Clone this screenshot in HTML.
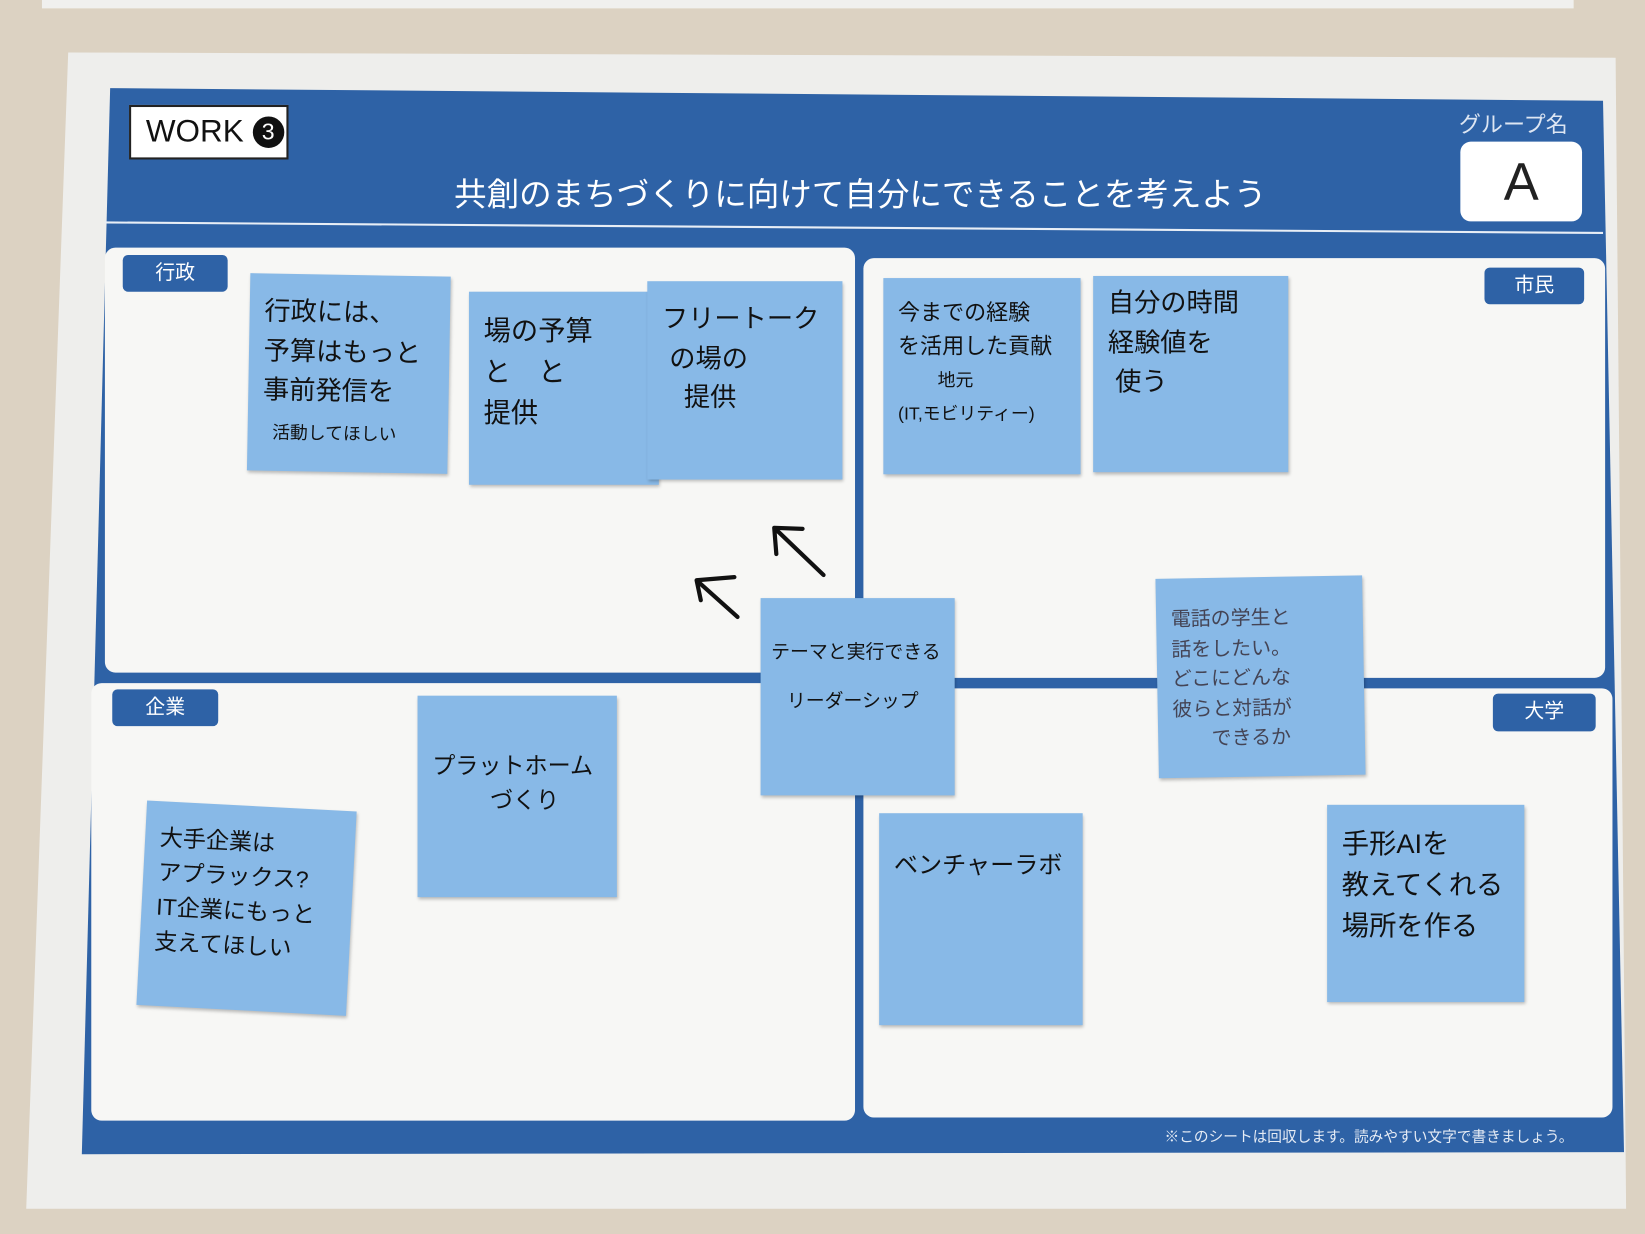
<!DOCTYPE html>
<html><head><meta charset="utf-8">
<style>
html,body{margin:0;padding:0;width:1645px;height:1234px;overflow:hidden;background:#dcd2c2;}
#s{position:absolute;left:0;top:0;width:1568px;height:1176px;transform:scale(1.0491,1.0493);transform-origin:0 0;font-family:"Liberation Sans","Noto Sans CJK JP",sans-serif;}
.a{position:absolute;}
.q{position:absolute;background:#f7f7f5;border-radius:10px;}
.lb{position:absolute;background:#2e62a6;color:#fff;font-size:19px;text-align:center;border-radius:5px;}
.n{position:absolute;background:#88b9e7;color:#111;font-size:26px;line-height:1.5;padding:18px 14px;box-sizing:border-box;box-shadow:1px 2px 3px rgba(0,0,0,.25);white-space:nowrap;overflow:hidden;font-family:"Liberation Sans","Noto Sans CJK JP",sans-serif;}
</style></head><body>
<div id="s">
<svg class="a" style="left:0;top:0" width="1568" height="1176">
<polygon points="40,0 1500,0 1500,8 40,8" fill="#f0f0ee"/>
<polygon points="65,50 1540,55 1550,1152 25,1152" fill="#eeeeec"/>
<polygon points="105,84 1528,96 1548,1098 78,1100" fill="#2e62a6"/>
<line x1="100" y1="212" x2="1528" y2="222" stroke="#e8eef6" stroke-width="2"/>
</svg>
<div class="a" style="left:123px;top:100px;width:152px;height:52px;background:#fff;border:2px solid #222;box-sizing:border-box;font-size:30px;line-height:48px;padding-left:14px;color:#111;">WORK <span style="display:inline-block;width:30px;height:30px;border-radius:50%;background:#111;color:#fff;font-size:22px;line-height:30px;text-align:center;vertical-align:2px">3</span></div>
<div class="a" style="left:300px;top:160px;width:1040px;text-align:center;color:#fff;font-size:31px;">共創のまちづくりに向けて自分にできることを考えよう</div>
<div class="a" style="left:1385px;top:103px;width:115px;text-align:center;color:#dde6f3;font-size:21px;">グループ名</div>
<div class="a" style="left:1392px;top:135px;width:116px;height:76px;background:#fff;border-radius:10px;text-align:center;font-size:50px;line-height:76px;color:#222;">A</div>
<div class="q" style="left:100px;top:236px;width:715px;height:405px"></div>
<div class="q" style="left:823px;top:246px;width:707px;height:400px"></div>
<div class="q" style="left:87px;top:651px;width:728px;height:417px"></div>
<div class="q" style="left:823px;top:656px;width:714px;height:409px"></div>
<div class="lb" style="left:117px;top:243px;width:100px;height:35px;line-height:35px">行政</div>
<div class="lb" style="left:1415px;top:255px;width:95px;height:35px;line-height:35px">市民</div>
<div class="lb" style="left:107px;top:657px;width:101px;height:35px;line-height:35px">企業</div>
<div class="lb" style="left:1423px;top:661px;width:98px;height:36px;line-height:36px">大学</div>
<div class="a" style="left:1110px;top:1073px;color:#e6ecf5;font-size:14px;">※このシートは回収します。読みやすい文字で書きましょう。</div>

<div class="n" style="left:237px;top:262px;width:191px;height:188px;font-size:25px;transform:rotate(1deg)">行政には、<br>予算はもっと<br>事前発信を<br><span style="font-size:17px">&nbsp;&nbsp;活動してほしい</span></div>
<div class="n" style="left:447px;top:278px;width:181px;height:184px">場の予算<br>と　と<br>提供</div>
<div class="n" style="left:617px;top:268px;width:186px;height:189px;font-size:25px">フリートーク<br>&nbsp;の場の<br>&nbsp;&nbsp;&nbsp;提供</div>
<div class="n" style="left:842px;top:265px;width:188px;height:187px;font-size:21px">今までの経験<br>を活用した貢献<br><span style="font-size:17px">&nbsp;&nbsp;&nbsp;&nbsp;&nbsp;&nbsp;&nbsp;&nbsp;地元<br>(IT,モビリティー)</span></div>
<div class="n" style="left:1042px;top:263px;width:186px;height:187px;font-size:25px;padding-top:8px">自分の時間<br>経験値を<br>&nbsp;使う</div>
<div class="n" style="left:1103px;top:550px;width:197px;height:190px;font-size:19px;color:#445;transform:rotate(-1deg);padding-top:26px">電話の学生と<br>話をしたい。<br>どこにどんな<br>彼らと対話が<br>&nbsp;&nbsp;&nbsp;&nbsp;&nbsp;&nbsp;&nbsp;できるか</div>
<div class="n" style="left:398px;top:663px;width:190px;height:192px;font-size:22px;padding-top:50px">プラットホーム<br>&nbsp;&nbsp;&nbsp;&nbsp;&nbsp;&nbsp;&nbsp;&nbsp;&nbsp;づくり</div>
<div class="n" style="left:135px;top:768px;width:200px;height:195px;font-size:22px;transform:rotate(3deg)">大手企業は<br>アプラックス?<br>IT企業にもっと<br>支えてほしい</div>
<div class="n" style="left:838px;top:775px;width:194px;height:202px;font-size:23px;padding-top:32px">ベンチャーラボ</div>
<div class="n" style="left:1265px;top:767px;width:188px;height:188px;font-size:26px">手形AIを<br>教えてくれる<br>場所を作る</div>
<div class="n" style="left:725px;top:570px;width:185px;height:188px;font-size:18px;padding:28px 10px;line-height:2.6">テーマと実行できる<br>&nbsp;&nbsp;&nbsp;リーダーシップ</div>
<svg class="a" style="left:0;top:0" width="1568" height="1176">
<g stroke="#111" stroke-width="4" fill="none" stroke-linecap="round">
<path d="M785,548 L738,503 M738,503 L765,504 M738,503 L740,528"/>
<path d="M703,588 L664,553 M664,553 L700,550 M664,553 L668,572"/>
</g></svg>
</div>
</body></html>
